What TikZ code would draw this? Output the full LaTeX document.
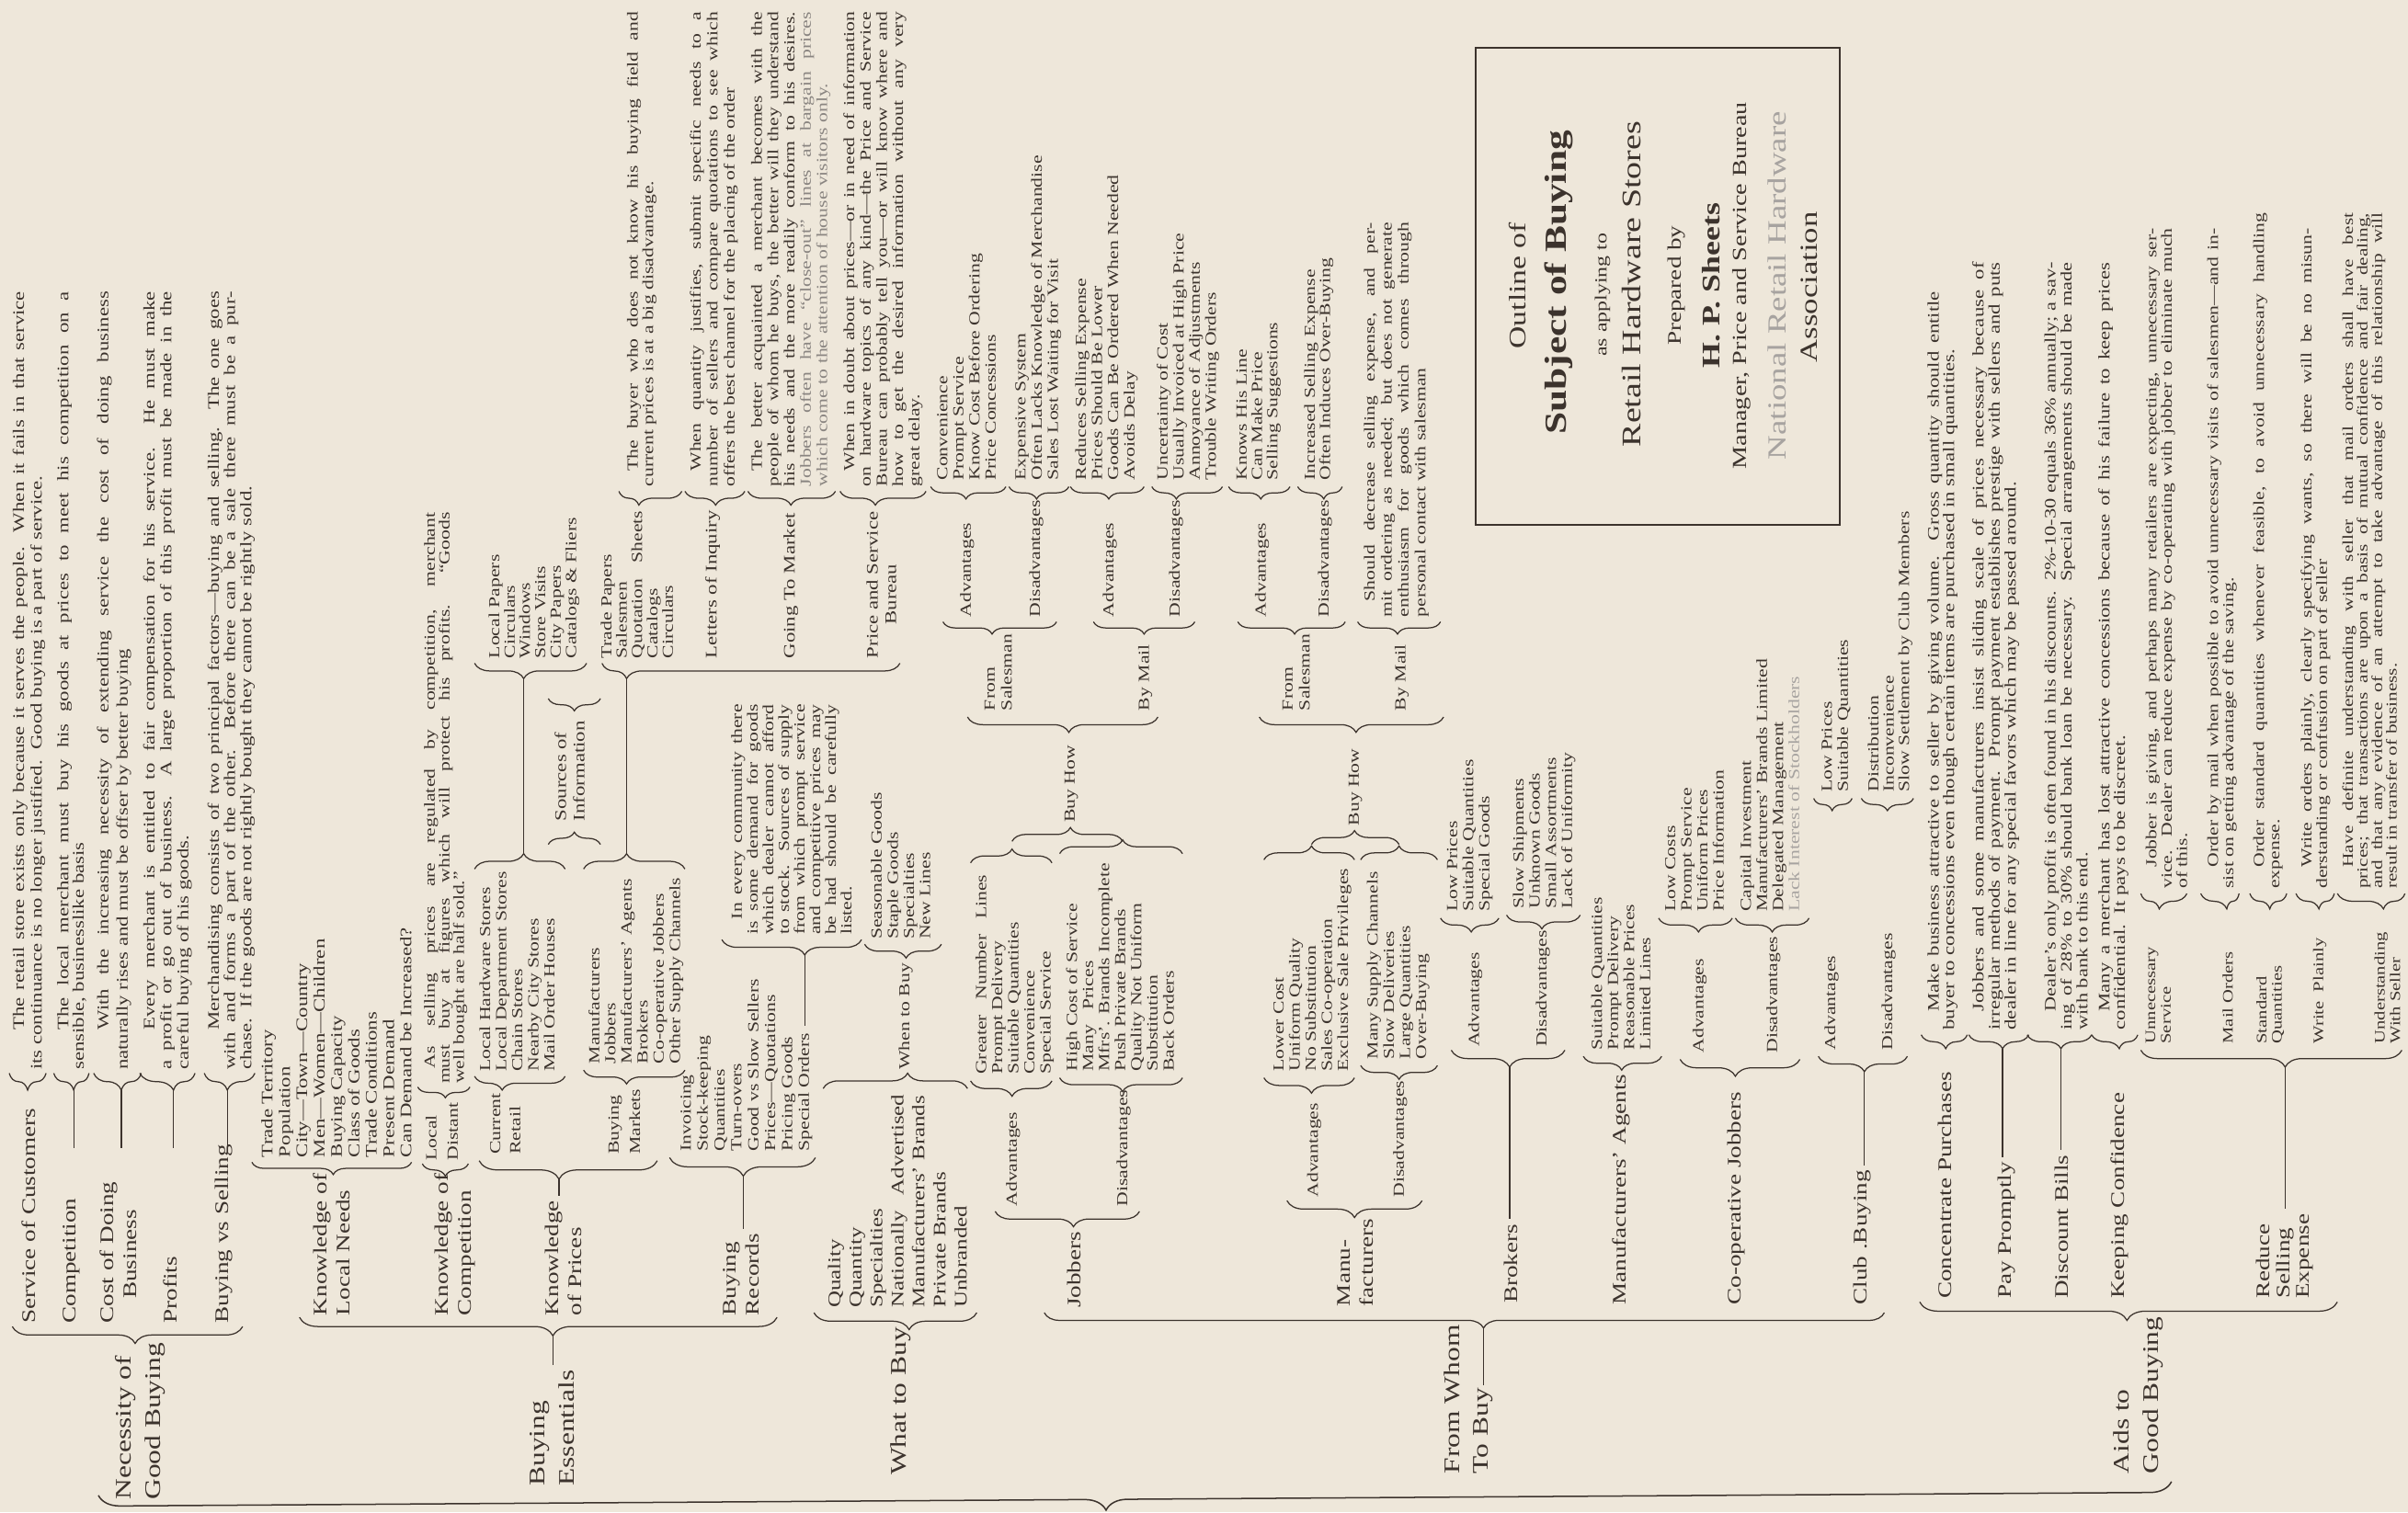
\documentclass[tikz,border=0pt]{standalone}
\usepackage{fontspec}
\setmainfont{Liberation Serif}[FakeStretch=1.3]
\usetikzlibrary{decorations.pathreplacing}
\definecolor{paper}{HTML}{EEE7DA}
\definecolor{ink}{HTML}{3C332D}
\newcommand\jl[2]{\makebox[#1pt][s]{#2}}
\newcommand\fs[2]{\fontsize{#1}{#2}\selectfont}
\newcommand\BrD[6]{%
  \pgfmathsetmacro\brasp{(#3-(#5))/(#3-(#2))}%
  \draw[brc,decoration={brace,amplitude=#6pt,aspect=\brasp}] (#3,-#4) -- (#2,-#4);%
  \coordinate (#1) at (#5,-#4-#6);}
\newcommand\BrU[6]{%
  \pgfmathsetmacro\brasp{(#5-(#2))/(#3-(#2))}%
  \draw[brc,decoration={brace,amplitude=#6pt,aspect=\brasp}] (#2,-#4) -- (#3,-#4);%
  \coordinate (#1) at (#5,-#4+#6);}
\begin{document}
\begin{tikzpicture}[x=1pt,y=1pt,
  every node/.style={text=ink},
  t/.style={rotate=90,anchor=north west,inner sep=0pt,align=left},
  L1/.style={t,font=\fs{14.5}{19}},
  L2/.style={t,font=\fs{12.5}{15}},
  L3/.style={t,font=\fs{10}{12}},
  li/.style={t,font=\fs{10}{10.5}},
  pa/.style={t,font=\fs{10}{10.5}},
  tt/.style={rotate=90,inner sep=0pt},
  brc/.style={draw=ink,line width=0.75pt,decorate},
  ln/.style={draw=ink,line width=0.75pt,shorten >=3pt},
  lnn/.style={draw=ink,line width=0.75pt}]
\useasboundingbox (0,0) rectangle (1568,-985);
\fill[paper] (0,0) rectangle (1568,-985);

% ---------- root brace ----------
\draw[brc,line width=0.9pt,decoration={brace,amplitude=14pt,aspect=0.514}] (1414,-965) -- (64,-974);

% ---------- Necessity of Good Buying ----------
\node[L1] (nec) at (75,-977) {Necessity of\\Good Buying};
\BrD{nb}{8}{158}{864}{88}{11}
\node[L2] (n1) at (14,-862) {Service of Customers};
\node[L2] (n2) at (41,-862) {Competition};
\node[L2] (n3) at (65,-862) {Cost of Doing\\\hspace*{16pt}Business};
\node[L2] (n4) at (106,-862) {Profits};
\node[L2] (n5) at (140,-862) {Buying vs Selling};
\coordinate (dl) at (0,-748);
\BrD{p1b}{6}{30}{699}{18}{11}
\BrD{p2b}{35}{58}{699}{48}{11}
\BrD{p3b}{61}{92}{699}{79}{11}
\BrD{p4b}{91}{127}{699}{113}{11}
\BrD{p5b}{133}{166}{699}{148}{11}
\draw[lnn] (p2b) -- (p2b |- dl);
\draw[lnn] (p3b) -- (p3b |- dl);
\draw[lnn] (p4b) -- (p4b |- dl);
\draw[lnn] (p5b) -- (p5b |- dl);
\node[pa,font=\fs{10.5}{11.5}] (p1) at (8,-697) {\hspace*{26pt}\jl{481}{The retail store exists only because it serves the people.\ \ When it fails in that service}\\its continuance is no longer justified.\ \ Good buying is a part of service.};
\node[pa,font=\fs{10.5}{10}] (p2) at (37,-697) {\hspace*{26pt}\jl{481}{The local merchant must buy his goods at prices to meet his competition on a}\\sensible, businesslike basis};
\node[pa,font=\fs{10.5}{12.5}] (p3) at (63,-697) {\hspace*{26pt}\jl{481}{With the increasing necessity of extending service the cost of doing business}\\naturally rises and must be offser by better buying};
\node[pa,font=\fs{10.5}{11}] (p4) at (93,-697) {\hspace*{26pt}\jl{481}{Every merchant is entitled to fair compensation for his service.\ \ He must make}\\\jl{507}{a profit or go out of business.\ \ A large proportion of this profit must be made in the}\\careful buying of his goods.};
\node[pa,font=\fs{10.5}{10.5}] (p5) at (135,-697) {\hspace*{26pt}\jl{481}{Merchandising consists of two principal factors—buying and selling.\ \ The one goes}\\\jl{507}{with and forms a part of the other.\ \ Before there can be a sale there must be a pur-}\\chase.\ \ If the goods are not rightly bought they cannot be rightly sold.};

% ---------- Buying Essentials ----------
\node[L1] (ess) at (345,-968) {Buying\\Essentials};
\BrD{eb}{195}{506}{858}{360}{12}
\draw[ln] (eb) -- (eb |- ess.east);
% Knowledge of Local Needs
\node[L2] (e1) at (204,-857) {Knowledge of\\Local Needs};
\BrD{e1b}{164}{268}{757}{217}{8}
\node[li,font=\fs{10.5}{11.3}] (e1l) at (170,-754) {Trade Territory\\Population\\City—Town—Country\\Men—Women—Children\\Buying Capacity\\Class of Goods\\Trade Conditions\\Present Demand\\Can Demand be Increased?};
% Knowledge of Competition
\node[L2] (e2) at (283,-857) {Knowledge of\\Competition};
\BrD{e2b}{275}{305}{758}{290}{8}
\node[li,font=\fs{10}{14}] (e2s) at (277,-756) {Local\\Distant};
\BrD{e2pb}{272}{306}{708}{290}{7}
\node[pa,font=\fs{10}{9.5}] (e2p) at (276,-706) {\hspace*{10pt}\jl{362}{As selling prices are regulated by competition, merchant}\\\jl{372}{must buy at figures which will protect his profits.\ \ “Goods}\\well bought are half sold.”};
% Knowledge of Prices
\node[L2] (e3) at (355,-857) {Knowledge\\of Prices};
\BrD{e3b}{312}{428}{756}{364}{12}
\draw[ln] (e3b) -- (e3b |- e3.east);
\node[li,font=\fs{10}{13}] (e3a) at (319,-752) {Current\\Retail};
\BrD{e3ab}{309}{368}{701}{327}{9}
\node[li] (e3al) at (312,-698) {Local Hardware Stores\\Local Department Stores\\Chain Stores\\Nearby City Stores\\Mail Order Houses};
\BrU{e3ac}{309}{368}{566}{341}{10}
\node[li,font=\fs{10}{14}] (e3m) at (396,-752) {Buying\\Markets};
\BrD{e3mb}{380}{446}{697}{408}{9}
\node[li] (e3ml) at (383,-693) {Manufacturers\\Jobbers\\Manufacturers' Agents\\Brokers\\Co-operative Jobbers\\Other Supply Channels};
\BrU{e3mc}{380}{446}{566}{408}{10}
\node[L3,font=\fs{10.5}{12}] (src) at (361,-535) {Sources of\\Information};
\BrU{srcb}{357}{391}{550}{374}{8}
\BrD{srct}{357}{391}{455}{374}{8}
\node[li,font=\fs{10}{10}] (lp) at (318,-429) {Local Papers\\Circulars\\Windows\\Store Visits\\City Papers\\Catalogs \& Fliers};
\BrD{lpb}{309}{382}{432}{341}{10}
\draw[lnn] (e3ac) -- (lpb);
\node[li,font=\fs{10}{10}] (tp) at (391,-429) {Trade Papers\\Salesmen\\\jl{96}{Quotation Sheets}\\Catalogs\\Circulars};
\BrD{wb}{392}{586}{432}{408}{10}
\draw[lnn] (e3mc) -- (wb);
\BrD{tpq}{403}{444}{320}{416}{9}
\node[pa,font=\fs{10}{10}] (e5) at (408,-317) {\hspace*{10pt}\jl{299}{The buyer who does not know his buying field and}\\current prices is at a big disadvantage.};
\node[L3,font=\fs{10.5}{12}] (loi) at (459,-429) {Letters of Inquiry};
\node[L3,font=\fs{10.5}{12}] (gtm) at (510,-429) {Going To Market};
\node[L3,font=\fs{10.5}{12}] (psb) at (564,-429) {Price and Service\\\hspace*{22pt}Bureau};
\BrD{loib}{446}{485}{320}{466}{9}
\BrD{gtmb}{487}{544}{320}{515}{9}
\BrD{psbb}{547}{603}{320}{570}{9}
\node[pa,font=\fs{10}{11}] (loip) at (449,-317) {\hspace*{10pt}\jl{299}{When quantity justifies, submit specific needs to a}\\\jl{309}{number of sellers and compare quotations to see which}\\offers the best channel for the placing of the order};
\node[pa,font=\fs{10}{10.6}] (gtmp) at (489,-317) {\hspace*{10pt}\jl{299}{The better acquainted a merchant becomes with the}\\\jl{309}{people of whom he buys, the better will they understand}\\\jl{309}{his needs and the more readily conform to his desires.}\\\textcolor{ink!60}{\jl{309}{Jobbers often have “close-out” lines at bargain prices}}\\\textcolor{ink!60}{which come to the attention of house visitors only.}};
\node[pa,font=\fs{10}{10.6}] (psbp) at (549,-317) {\hspace*{10pt}\jl{299}{When in doubt about prices—or in need of information}\\\jl{309}{on hardware topics of any kind—the Price and Service}\\\jl{309}{Bureau can probably tell you—or will know where and}\\\jl{309}{how to get the desired information without any very}\\great delay.};
% Buying Records
\node[L2] (e4) at (471,-857) {Buying\\Records};
\BrD{e4b}{436}{531}{754}{484}{12}
\draw[ln] (e4b) -- (e4b |- e4.east);
\node[li,font=\fs{10}{11}] (e4l) at (443,-750) {Invoicing\\Stock-keeping\\Quantities\\Turn-overs\\Good vs Slow Sellers\\Prices—Quotations\\Pricing Goods\\Special Orders};
\coordinate (so) at (524,-668);
\BrD{e4pb}{470}{561}{612}{524}{10}
\draw[lnn] (e4pb) -- (so);
\node[pa,font=\fs{10}{10.2}] (e4p) at (476,-609) {\hspace*{10pt}\jl{140}{In every community there}\\\jl{150}{is some demand for goods}\\\jl{150}{which dealer cannot afford}\\\jl{150}{to stock.\ \ Sources of supply}\\\jl{150}{from which prompt service}\\\jl{150}{and competitive prices may}\\\jl{150}{be had should be carefully}\\listed.};

% ---------- What to Buy ----------
\node[L1] (wtb) at (580,-961) {What to Buy};
\BrD{wb0}{530}{636}{855}{592}{11}
\node[t,font=\fs{11.5}{13.7}] (w1) at (539,-852) {Quality\\Quantity\\Specialties\\\jl{139}{Nationally Advertised}\\Manufacturers' Brands\\Private Brands\\Unbranded};
\BrU{w1c}{536}{630}{709}{591}{10}
\node[L3] (w2) at (585,-697) {When to Buy};
\BrD{w2b}{563}{613}{615}{590}{9}
\node[li] (w3) at (567,-612) {Seasonable Goods\\Staple Goods\\Specialties\\New Lines};

% ---------- From Whom To Buy ----------
\node[L1] (fw) at (940,-960) {From Whom\\To Buy};
\coordinate (tobuy) at (966,-902);
\BrD{fb}{680}{1227}{855}{966}{10}
\draw[lnn] (fb) -- (tobuy);
% Jobbers
\node[L2] (f1) at (695,-852) {Jobbers};
\BrD{f1b}{648}{742}{789}{699}{10}
\node[L3] (f1a) at (655,-786) {Advantages};
\BrD{f1ab}{632}{685}{704}{659}{10}
\node[li] (f1al) at (635,-700) {\jl{130}{Greater Number Lines}\\Prompt Delivery\\Suitable Quantities\\Convenience\\Special Service};
\node[L3] (f1d) at (727,-786) {Disadvantages};
\BrD{f1db}{690}{770}{702}{731}{9}
\node[li] (f1dl) at (694,-698) {High Cost of Service\\Many\ \ \ Prices\\Mfrs'. Brands Incomplete\\Push Private Brands\\Quality Not Uniform\\Substitution\\Back Orders};
\BrU{f1ac}{632}{685}{562}{659}{9}
\BrU{f1dc}{690}{770}{556}{731}{9}
\BrU{f1c}{659}{731}{548}{697}{9}
\node[L3] (f1h) at (693,-536) {Buy How};
\BrD{f1hb}{630}{754}{467}{696}{10}
\node[li,font=\fs{10}{11}] (f1s) at (641,-463) {From\\Salesman};
\BrD{f1sb}{614}{688}{405}{646}{8}
\node[li] (f1m) at (741,-463) {By Mail};
\BrD{f1mb}{712}{778}{405}{745}{8}
\node[L3] (f1sa) at (625,-402) {Advantages};
\BrD{f1sab}{606}{655}{317}{629}{8}
\node[li] (f1sal) at (610,-313) {Convenience\\Prompt Service\\Know Cost Before Ordering\\Price Concessions};
\node[L3] (f1sd) at (670,-402) {Disadvantages};
\BrD{f1sdb}{657}{696}{317}{675}{8}
\node[li] (f1sdl) at (661,-313) {Expensive System\\Often Lacks Knowledge of Merchandise\\Sales Lost Waiting for Visit};
\node[L3] (f1ma) at (718,-402) {Advantages};
\BrD{f1mab}{697}{745}{317}{722}{8}
\node[li] (f1mal) at (700,-313) {Reduces Selling Expense\\Prices Should Be Lower\\Goods Can Be Ordered When Needed\\Avoids Delay};
\node[L3] (f1md) at (761,-402) {Disadvantages};
\BrD{f1mdb}{750}{796}{317}{766}{8}
\node[li] (f1mdl) at (753,-313) {Uncertainty of Cost\\Usually Invoiced at High Price\\Annoyance of Adjustments\\Trouble Writing Orders};
% Manufacturers
\node[L2] (f2) at (871,-851) {Manu-\\facturers};
\BrD{f2b}{838}{926}{782}{882}{11}
\node[L3] (f2a) at (851,-780) {Advantages};
\BrD{f2ab}{823}{882}{702}{854}{10}
\node[li] (f2al) at (829,-698) {Lower Cost\\Uniform Quality\\No Substitution\\Sales Co-operation\\Exclusive Sale Privileges};
\node[L3] (f2d) at (907,-780) {Disadvantages};
\BrD{f2db}{886}{936}{694}{911}{9}
\node[li] (f2dl) at (890,-690) {Many Supply Channels\\Slow Deliveries\\Large Quantities\\Over-Buying};
\BrU{f2ac}{823}{882}{560}{854}{9}
\BrU{f2dc}{886}{936}{560}{911}{9}
\BrU{f2c}{854}{911}{550}{882}{9}
\node[L3] (f2h) at (878,-538) {Buy How};
\BrD{f2hb}{820}{940}{467}{883}{10}
\node[li,font=\fs{10}{11}] (f2s) at (835,-463) {From\\Salesman};
\BrD{f2sb}{806}{876}{405}{843}{8}
\node[li] (f2m) at (908,-463) {By Mail};
\BrD{f2mb}{884}{938}{405}{910}{8}
\node[L3] (f2sa) at (817,-402) {Advantages};
\BrD{f2sab}{800}{840}{317}{821}{8}
\node[li,font=\fs{10}{10}] (f2sal) at (805,-313) {Knows His Line\\Can Make Price\\Selling Suggestions};
\node[L3] (f2sd) at (858,-402) {Disadvantages};
\BrD{f2sdb}{845}{874}{317}{862}{8}
\node[li,font=\fs{10}{10}] (f2sdl) at (849,-313) {Increased Selling Expense\\Often Induces Over-Buying};
\node[pa,font=\fs{10}{11}] (f2mp) at (888,-402) {\hspace*{10pt}\jl{247}{Should decrease selling expense, and per-}\\\jl{257}{mit ordering as needed; but does not generate}\\\jl{257}{enthusiasm for goods which comes through}\\personal contact with salesman};
% Brokers
\node[L2] (f3) at (979,-849) {Brokers};
\BrD{f3b}{945}{1019}{684}{983}{11}
\draw[ln] (f3b) -- (f3b |- f3.east);
\node[L3] (f3a) at (956,-682) {Advantages};
\BrD{f3ab}{938}{976}{598}{958}{9}
\node[li] (f3al) at (942,-594) {Low Prices\\Suitable Quantities\\Special Goods};
\node[L3] (f3d) at (1000,-682) {Disadvantages};
\BrD{f3db}{981}{1029}{596}{1004}{9}
\node[li] (f3dl) at (985,-592) {Slow Shipments\\Unknown Goods\\Small Assortments\\Lack of Uniformity};
% Manufacturers' Agents
\node[L2] (f4) at (1050,-850) {Manufacturers' Agents};
\BrD{f4b}{1031}{1082}{688}{1056}{9}
\node[li] (f4l) at (1036,-684) {Suitable Quantities\\Prompt Delivery\\Reasonable Prices\\Limited Lines};
% Co-operative Jobbers
\node[L2] (f5) at (1125,-850) {Co-operative Jobbers};
\BrD{f5b}{1094}{1172}{690}{1130}{11}
\node[L3] (f5a) at (1102,-686) {Advantages};
\BrD{f5ab}{1080}{1128}{598}{1106}{9}
\node[li] (f5al) at (1084,-594) {Low Costs\\Prompt Service\\Uniform Prices\\Price Information};
\node[L3] (f5d) at (1150,-686) {Disadvantages};
\BrD{f5db}{1130}{1178}{598}{1154}{9}
\node[li] (f5dl) at (1133,-594) {Capital Investment\\Manufacturers' Brands Limited\\Delegated Management\\\textcolor{ink!45}{Lack Interest of Stockholders}};
% Club Buying
\node[L2] (f6) at (1207,-850) {Club .Buying};
\BrD{f6b}{1184}{1242}{688}{1214}{10}
\draw[ln] (f6b) -- (f6b |- f6.east);
\node[L3] (f6a) at (1188,-684) {Advantages};
\BrD{f6ab}{1181}{1206}{520}{1193}{8}
\node[li] (f6al) at (1186,-516) {Low Prices\\Suitable Quantities};
\node[L3] (f6d) at (1225,-684) {Disadvantages};
\BrD{f6db}{1212}{1246}{520}{1229}{8}
\node[li,font=\fs{10}{10}] (f6dl) at (1216,-516) {Distribution\\Inconvenience\\Slow Settlement by Club Members};

% ---------- Aids to Good Buying ----------
\node[L1] (aid) at (1376,-960) {Aids to\\Good Buying};
\BrD{ab}{1250}{1522}{848}{1385}{12}
\node[L2] (a1) at (1262,-846) {Concentrate Purchases};
\BrD{a1b}{1251}{1281}{674}{1267}{9}
\node[pa,font=\fs{10.5}{10}] (a1p) at (1255,-671) {\hspace*{12pt}\jl{469}{Make business attractive to seller by giving volume.\ \ Gross quantity should entitle}\\buyer to concessions even though certain items are purchased in small quantities.};
\node[L2] (a2) at (1301,-846) {Pay Promptly};
\BrD{a2b}{1282}{1321}{674}{1304}{9}
\draw[ln] (a2b) -- (a2b |- a2.east);
\node[pa,font=\fs{10.5}{10.5}] (a2p) at (1284,-671) {\hspace*{12pt}\jl{488}{Jobbers and some manufacturers insist sliding scale of prices necessary because of}\\\jl{500}{irregular methods of payment.\ \ Prompt payment establishes prestige with sellers and puts}\\dealer in line for any special favors which may be passed around.};
\node[L2] (a3) at (1338,-846) {Discount Bills};
\BrD{a3b}{1320}{1362}{674}{1342}{9}
\draw[ln] (a3b) -- (a3b |- a3.east);
\node[pa,font=\fs{10.3}{9.3}] (a3p) at (1331,-671) {\hspace*{12pt}\jl{488}{Dealer's only profit is often found in his discounts.\ \ 2\%-10-30 equals 36\% annually; a sav-}\\\jl{500}{ing of 28\% to 30\% should bank loan be necessary.\ \ Special arrangements should be made}\\with bank to this end.};
\node[L2] (a4) at (1374,-846) {Keeping Confidence};
\BrD{a4b}{1362}{1392}{674}{1380}{9}
\node[pa,font=\fs{10.5}{10}] (a4p) at (1366,-671) {\hspace*{12pt}\jl{488}{Many a merchant has lost attractive concessions because of his failure to keep prices}\\confidential.\ \ It pays to be discreet.};
\node[L2,font=\fs{12.5}{13}] (a5) at (1469,-846) {Reduce\\Selling\\Expense};
\BrD{a5b}{1394}{1564}{684}{1488}{11}
\draw[ln] (a5b) -- (a5b |- a5.east);
\node[li,font=\fs{9.5}{10}] (a51) at (1397,-680) {Unnecessary\\Service};
\node[li,font=\fs{9.5}{10}] (a52) at (1447,-680) {Mail Orders};
\node[li,font=\fs{9.5}{10}] (a53) at (1469,-680) {Standard\\Quantities};
\node[li,font=\fs{9.5}{10}] (a54) at (1506,-680) {Write\ \ Plainly};
\node[li,font=\fs{9.5}{10}] (a55) at (1546,-680) {Understanding\\With Seller};
\BrD{a51b}{1394}{1424}{582}{1406}{10}
\BrD{a52b}{1433}{1458}{582}{1450}{10}
\BrD{a53b}{1465}{1489}{582}{1478}{10}
\BrD{a54b}{1495}{1520}{582}{1510}{10}
\BrD{a55b}{1522}{1566}{582}{1552}{10}
\node[pa,font=\fs{10}{10}] (a51p) at (1397,-579) {\hspace*{14pt}\jl{416}{Jobber is giving, and perhaps many retailers are expecting, unnecessary ser-}\\\jl{430}{vice.\ \ Dealer can reduce expense by co-operating with jobber to eliminate much}\\of this.};
\node[pa,font=\fs{10}{10}] (a52p) at (1437,-579) {\hspace*{14pt}\jl{416}{Order by mail when possible to avoid unnecessary visits of salesmen—and in-}\\sist on getting advantage of the saving.};
\node[pa,font=\fs{10}{10}] (a53p) at (1467,-579) {\hspace*{14pt}\jl{426}{Order standard quantities whenever feasible, to avoid unnecessary handling}\\expense.};
\node[pa,font=\fs{10}{10}] (a54p) at (1498,-579) {\hspace*{14pt}\jl{416}{Write orders plainly, clearly specifying wants, so there will be no misun-}\\derstanding or confusion on part of seller};
\node[pa,font=\fs{9.8}{9.5}] (a55p) at (1525,-579) {\hspace*{14pt}\jl{426}{Have definite understanding with seller that mail orders shall have best}\\\jl{440}{prices; that transactions are upon a basis of mutual confidence and fair dealing,}\\\jl{440}{and that any evidence of an attempt to take advantage of this relationship will}\\result in transfer of business.};

% ---------- Title box ----------
\draw[ink,line width=1.1pt] (961,-31) rectangle (1198,-342);
\node[tt,font=\fs{15.5}{16}] (t1) at (988,-186) {Outline of};
\node[tt,font=\fs{20}{20}\bfseries] (t2) at (1015,-184) {Subject of Buying};
\node[tt,font=\fs{11}{11}] (t3) at (1043.5,-192) {as applying to};
\node[tt,font=\fs{17.5}{18}] (t4) at (1062.5,-185) {Retail Hardware Stores};
\node[tt,font=\fs{12.5}{13}] (t5) at (1092,-186) {Prepared by};
\node[tt,font=\fs{16.5}{17}\bfseries] (t6) at (1114,-186) {H. P. Sheets};
\node[tt,font=\fs{13}{13}] (t7) at (1134,-186) {Manager, Price and Service Bureau};
\node[tt,font=\fs{17}{17},text=ink!45] (t8) at (1157,-186) {National Retail Hardware};
\node[tt,font=\fs{16}{16}] (t9) at (1178,-187) {Association};
\end{tikzpicture}
\end{document}
